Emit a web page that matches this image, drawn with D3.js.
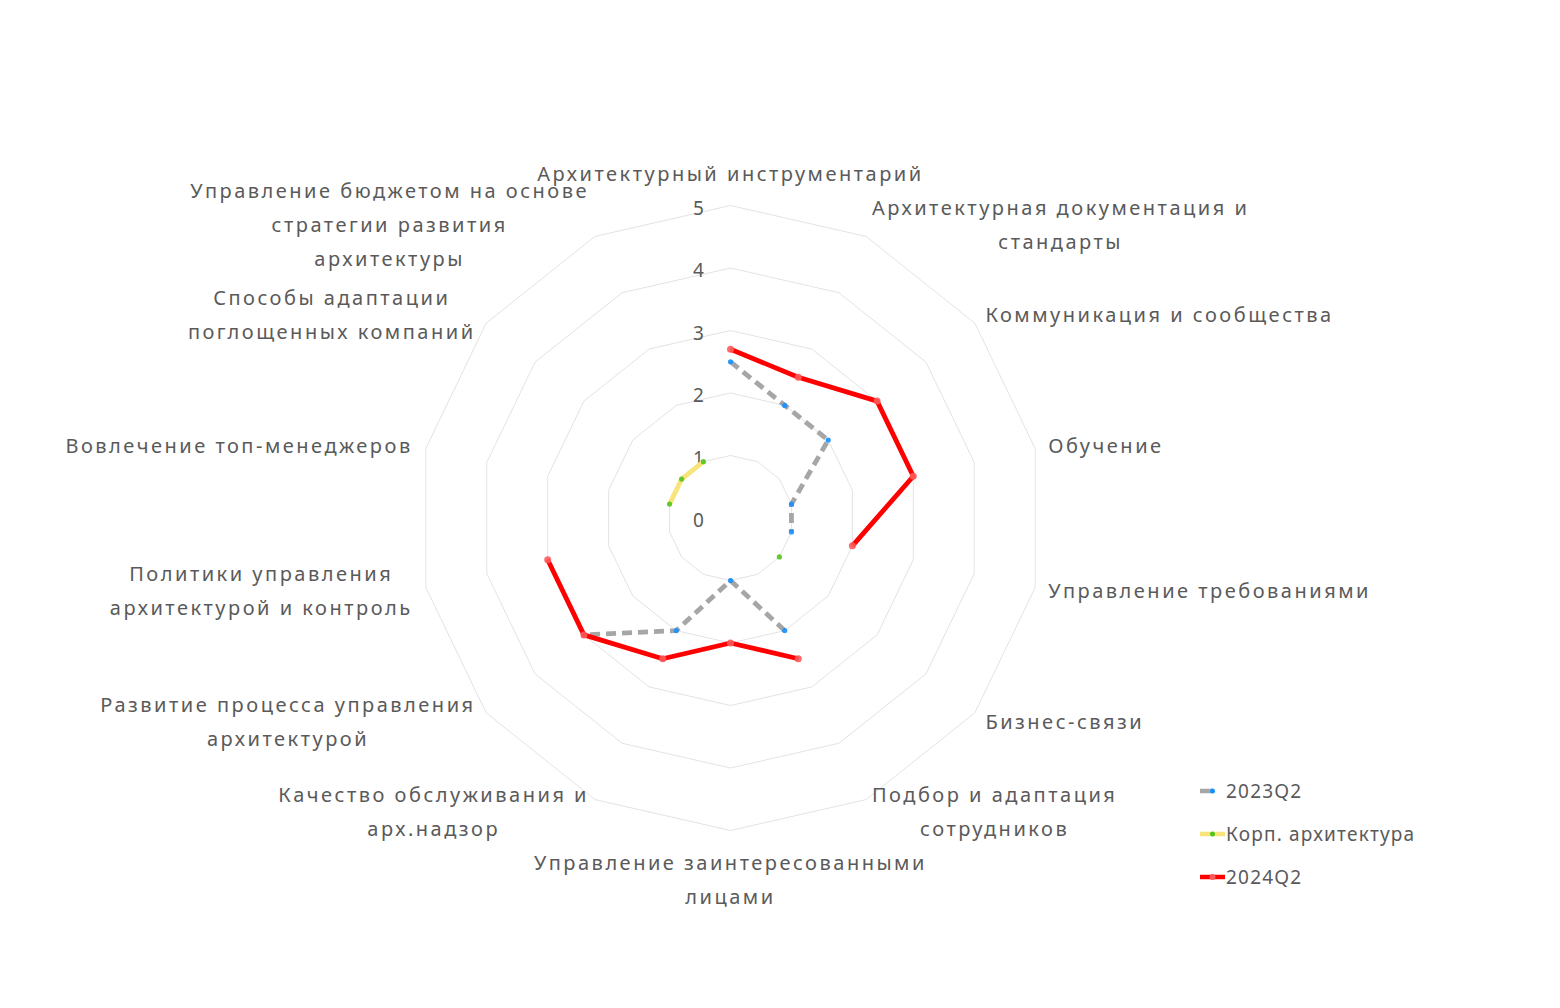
<!DOCTYPE html>
<html>
<head>
<meta charset="utf-8">
<script src="https://cdn.jsdelivr.net/npm/d3@7/dist/d3.min.js"></script>
<style>
  html, body { margin: 0; padding: 0; background: #ffffff; }
  svg { display: block; }
  text { font-family: "Noto Sans", "DejaVu Sans", sans-serif; fill: #5a5a5a; }
</style>
</head>
<body>
<svg id="chart" width="1560" height="1008"></svg>
<script>
// ---- data ----
const categories = [
  "Архитектурный инструментарий",
  "Архитектурная документация и\nстандарты",
  "Коммуникация и сообщества",
  "Обучение",
  "Управление требованиями",
  "Бизнес-связи",
  "Подбор и адаптация\nсотрудников",
  "Управление заинтересованными\nлицами",
  "Качество обслуживания и\nарх.надзор",
  "Развитие процесса управления\nархитектурой",
  "Политики управления\nархитектурой и контроль",
  "Вовлечение топ-менеджеров",
  "Способы адаптации\nпоглощенных компаний",
  "Управление бюджетом на основе\nстратегии развития\nархитектуры"
];
const seriesNames = ["2023Q2", "Корп. архитектура", "2024Q2"];
const values2023Q2 = [2.5, 2, 2, 1, 1, null, 2, 1, 2, 3, null, null, null, null];
const valuesKorp   = [null, null, null, null, null, 1, null, null, null, null, null, 1, 1, 1];
const values2024Q2 = [2.7, 2.5, 3, 3, 2, null, 2.5, 2, 2.5, 3, 3, null, null, null];
const tickLabels = [0, 1, 2, 3, 4, 5];

// ---- layout ----
const svg = d3.select("#chart");
const cx = 730.5, cy = 518, R = 312.5, labelR = 326;
const n = categories.length;
const r = d3.scaleLinear().domain([0, 5]).range([0, R]);
const angle = i => i * 2 * Math.PI / n;
const px = (i, v) => cx + r(v) * Math.sin(angle(i));
const py = (i, v) => cy - r(v) * Math.cos(angle(i));

const g = svg.append("g");

// grid polygons
tickLabels.filter(t => t > 0).forEach(t => {
  const pts = d3.range(n).map(i => [px(i, t), py(i, t)]);
  g.append("path")
    .attr("d", d3.line()(pts) + "Z")
    .attr("fill", "none")
    .attr("stroke", "#e3e3e3")
    .attr("stroke-width", 1);
});

// tick labels
g.selectAll(".tick").data(tickLabels).enter().append("text")
  .attr("x", cx - 32)
  .attr("y", d => cy - r(d) + 2)
  .attr("text-anchor", "middle")
  .attr("dominant-baseline", "central")
  .style("font-size", "19px")
  .text(d => d);

// axis labels
const lineH = 34;
categories.forEach((c, i) => {
  const a = angle(i);
  const s = Math.sin(a), co = Math.cos(a);
  const lx = cx + labelR * s, ly = cy - labelR * co;
  const lines = c.split("\n");
  const t = g.append("text").style("font-size", "20px").style("letter-spacing", "2.5px");
  let blockTop;
  if (Math.abs(s) < 1e-6 && co > 0) blockTop = ly - lines.length * lineH - 2;
  else if (Math.abs(s) < 1e-6 && co < 0) blockTop = ly + 1;
  else blockTop = ly - lines.length * lineH / 2;
  lines.forEach((ln, k) => {
    t.append("tspan").attr("data-k", k).text(ln);
  });
  const widths = [];
  t.selectAll("tspan").each(function() { widths.push(this.getComputedTextLength()); });
  const maxW = d3.max(widths);
  let centerX;
  if (Math.abs(s) < 1e-6) centerX = lx;
  else if (s > 0) centerX = lx + maxW / 2;
  else centerX = lx - maxW / 2;
  t.attr("text-anchor", "middle");
  t.selectAll("tspan")
    .attr("x", centerX)
    .attr("y", (d, k) => blockTop + lineH * k + lineH / 2)
    .attr("dominant-baseline", "central");
});

// series
function segments(vals) {
  const segs = [];
  let cur = [];
  vals.forEach((v, i) => {
    if (v == null) { if (cur.length) segs.push(cur); cur = []; }
    else cur.push([px(i, v), py(i, v)]);
  });
  if (cur.length) segs.push(cur);
  return segs;
}
const styles = [
  { vals: values2023Q2, stroke: "#a6a6a6", dash: "10,6", marker: "#1890ff", mr: 2.6 },
  { vals: valuesKorp, stroke: "#f7e47c", dash: null, marker: "#52c41a", mr: 2.6 },
  { vals: values2024Q2, stroke: "#ff0000", dash: null, marker: "#ff5a5a", mr: 3.5 }
];
const line = d3.line();
styles.forEach(st => {
  segments(st.vals).forEach(seg => {
    if (seg.length > 1) {
      g.append("path").attr("d", line(seg))
        .attr("fill", "none").attr("stroke", st.stroke)
        .attr("stroke-width", 4.8)
        .attr("stroke-linejoin", "round")
        .attr("stroke-dasharray", st.dash);
    }
  });
  st.vals.forEach((v, i) => {
    if (v == null) return;
    g.append("circle").attr("cx", px(i, v)).attr("cy", py(i, v))
      .attr("r", st.mr).attr("fill", st.marker).attr("fill-opacity", 0.9);
  });
});

// legend
const lg = svg.append("g").attr("transform", "translate(1200,0)");
const legendY = [791, 834, 877];
seriesNames.forEach((name, k) => {
  const st = styles[k];
  const y = legendY[k];
  lg.append("line").attr("x1", 0).attr("x2", 25).attr("y1", y).attr("y2", y)
    .attr("stroke", st.stroke).attr("stroke-width", 4.5)
    .attr("stroke-dasharray", k === 0 ? "13,20" : null);
  lg.append("circle").attr("cx", 12.5).attr("cy", y).attr("r", k === 2 ? 3 : 2.5)
    .attr("fill", st.marker);
  lg.append("text").attr("x", 26).attr("y", y)
    .attr("dominant-baseline", "central")
    .style("font-size", "19px").style("letter-spacing", "1.2px")
    .text(name);
});
</script>
</body>
</html>
